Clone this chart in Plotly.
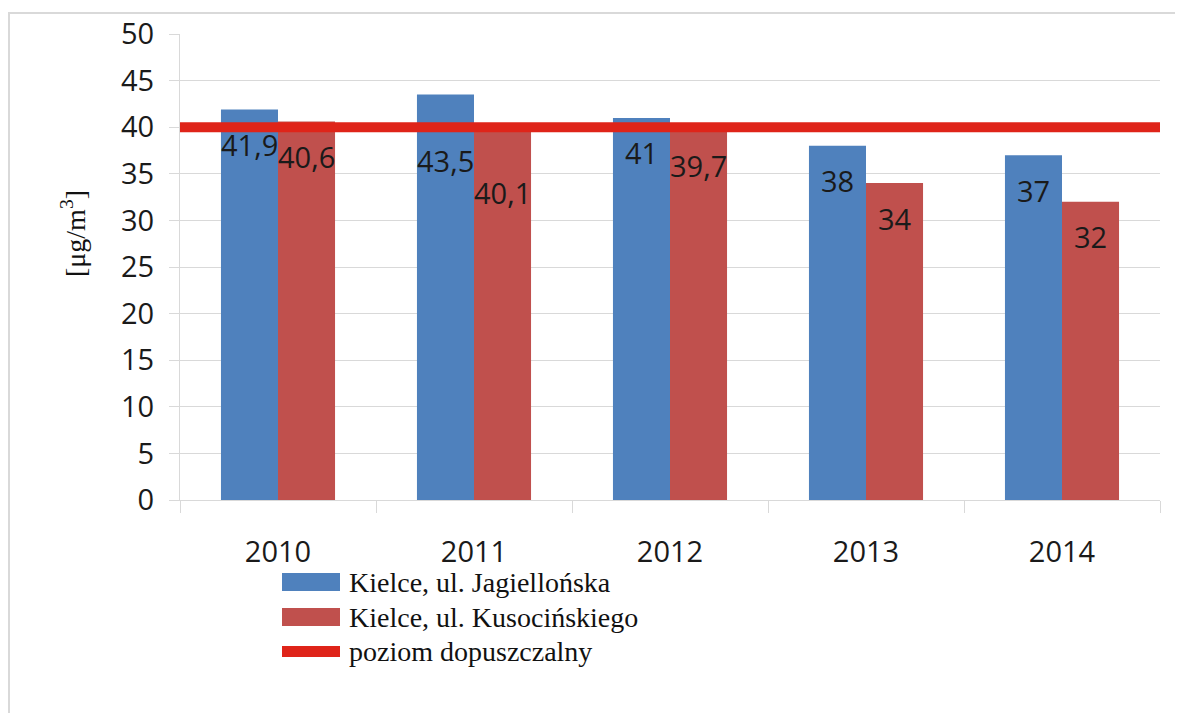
import plotly.graph_objects as go

years = ["2010", "2011", "2012", "2013", "2014"]
jagiellonska = [41.9, 43.5, 41.0, 38.0, 37.0]
kusocinskiego = [40.6, 40.1, 39.7, 34.0, 32.0]
limit_value = 40
series_names = ["Kielce, ul. Jagiellońska", "Kielce, ul. Kusocińskiego", "poziom dopuszczalny"]

BLUE = "#4F81BD"
RED = "#C0504D"
LIMIT_RED = "#DF2419"
GRID = "#D9D9D9"
TICKFONT = dict(family="Open Sans", size=29, color="#1a1a1a")

# the page adds an 8px body margin, so the figure is a bit smaller than the window
FW, FH = 1175, 705
# plot area (page pixels): x 180..1160, y 34..500
L, R, T, B = 172, 23, 26, 213
W, H = FW - L - R, FH - T - B
BARGAP = 0.418


def px_x(p):
    return (p - 180) / W


def px_y(p):
    return (500 - p) / H


fig = go.Figure()
fig.add_trace(go.Bar(x=years, y=jagiellonska, name=series_names[0], marker=dict(color=BLUE, line_width=0)))
fig.add_trace(go.Bar(x=years, y=kusocinskiego, name=series_names[1], marker=dict(color=RED, line_width=0)))

# limit line across the whole plot area
fig.add_shape(type="line", xref="paper", yref="y", x0=0, x1=1, y0=limit_value, y1=limit_value,
              line=dict(color=LIMIT_RED, width=10), layer="above")

# data labels (Excel-style, sitting inside the bar tops; 2011 labels were moved down)
half = (1 - BARGAP) / 4
drop = {"2011": 66}
for i, yr in enumerate(years):
    for vals, off in ((jagiellonska, -half), (kusocinskiego, half)):
        v = vals[i]
        fig.add_annotation(x=i + off, y=v, xref="x", yref="y", yshift=-drop.get(yr, 35),
                           text=f"{v:g}".replace(".", ","), showarrow=False,
                           font=TICKFONT, xanchor="center", yanchor="middle")

# hand-made legend below the axis
legend_rows = [(573, 591, BLUE), (608, 626, RED), (646, 657, LIMIT_RED)]
text_rows = [582, 617, 651]
for (ya, yb, col), yt, name in zip(legend_rows, text_rows, series_names):
    fig.add_shape(type="rect", xref="paper", yref="paper", x0=px_x(282), x1=px_x(340),
                  y0=px_y(yb), y1=px_y(ya), fillcolor=col, line_width=0)
    fig.add_annotation(x=px_x(347), y=px_y(yt), xref="paper", yref="paper", text=name,
                       showarrow=False, xanchor="left", yanchor="middle",
                       font=dict(family="Liberation Serif", size=28, color="#111"))

# y axis title
fig.add_annotation(x=px_x(73), y=px_y(234), xref="paper", yref="paper", text="[μg/m<sup>3</sup>]",
                   textangle=-90, showarrow=False, xanchor="center", yanchor="middle",
                   font=dict(family="Liberation Serif", size=28, color="#111"))

# outer chart border (left and top edges visible)
fig.add_shape(type="path", xref="paper", yref="paper",
              path=f"M {px_x(9)},{px_y(720)} L {px_x(9)},{px_y(13)} L {px_x(1190)},{px_y(13)}",
              line=dict(color=GRID, width=2))

fig.update_layout(
    width=FW, height=FH,
    margin=dict(l=L, r=R, t=T, b=B, autoexpand=False),
    paper_bgcolor="white", plot_bgcolor="white",
    barmode="group", bargap=BARGAP, bargroupgap=0,
    showlegend=False,
)
fig.update_xaxes(
    type="category", categoryorder="array", categoryarray=years, range=[-0.5, len(years) - 0.5],
    showgrid=False, showline=True, linecolor=GRID, linewidth=1,
    ticks="outside", tickson="boundaries", ticklen=12, tickcolor=GRID,
    tickfont=TICKFONT, ticklabelstandoff=26, tickangle=0,
)
fig.update_yaxes(
    range=[0, 50], dtick=5, showgrid=True, gridcolor=GRID, gridwidth=1,
    showline=True, linecolor=GRID, linewidth=1, zeroline=False,
    ticks="outside", ticklen=10, tickcolor=GRID,
    tickfont=TICKFONT, ticklabelstandoff=9,
)

fig.write_html("out.html")
